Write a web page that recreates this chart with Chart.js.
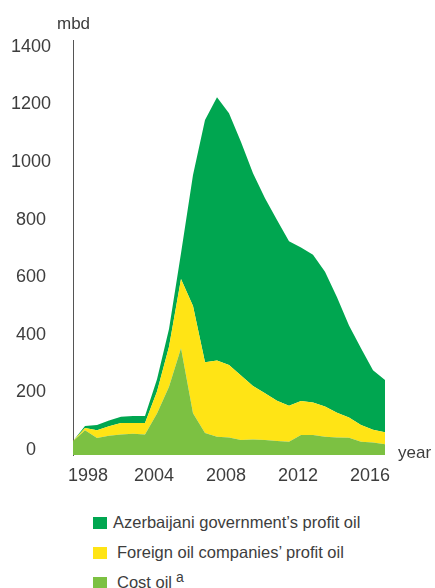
<!DOCTYPE html>
<html>
<head>
<meta charset="utf-8">
<script src="https://cdn.jsdelivr.net/npm/chart.js@4/dist/chart.umd.min.js"></script>
<style>
    body { margin: 0; background: #fff; font-family: 'Liberation Sans', Arial, sans-serif; color: #3d3d3d; }
    #wrap { position: relative; width: 435px; height: 588px; overflow: hidden; }
    #grafico { position: absolute; left: 0; top: 0; }
    .etichetta { position: absolute; font-size: 17px; white-space: nowrap; }
    .legenda { position: absolute; left: 0; top: 0; font-size: 16.5px; }
    .voce { position: absolute; white-space: nowrap; }
    .quadrato { position: absolute; width: 14px; height: 12px; }
    .testo { position: absolute; top: -4px; }
    sup { font-size: 14px; position: relative; top: -6px; vertical-align: baseline; margin-left: 4px; }
</style>
</head>
<body>
<div id="wrap">
    <canvas id="grafico" width="435" height="500"></canvas>
    <div class="etichetta" style="left:57px; top:14px;">mbd</div>
    <div class="etichetta" style="left:398px; top:443px;">year</div>
    <div class="legenda" id="legenda"></div>
</div>
<script>
// valori (mbd), un punto ogni passo dell'asse x
var costOil = [31, 69, 42, 50, 54, 57, 54, 127, 220, 353, 128, 59, 46, 44, 35, 37, 35, 32, 29, 52, 52, 46, 44, 43, 29, 26, 20];
var foreignProfit = [1, 8, 27, 33, 40, 37, 40, 76, 139, 241, 372, 246, 265, 251, 224, 185, 162, 139, 125, 118, 113, 105, 86, 70, 58, 45, 42];
var govProfit = [0, 7, 18, 20, 22, 24, 24, 43, 61, 89, 455, 840, 913, 874, 810, 739, 677, 627, 571, 533, 513, 468, 400, 319, 266, 206, 181];

var xTickLabels = ['1998', '2004', '2008', '2012', '2016'];
var xTickAt = [1.25, 6.75, 12.75, 18.75, 24.75];
var yTicks = [0, 200, 400, 600, 800, 1000, 1200, 1400];

var nomiSerie = ['Azerbaijani government\u2019s profit oil', 'Foreign oil companies\u2019 profit oil', 'Cost oil'];
var coloriSerie = ['#00a650', '#ffe415', '#7cc142'];

function creaPunti(valori) {
    var punti = [];
    for (var i = 0; i < valori.length; i++) {
        punti.push({ x: i, y: valori[i] });
    }
    return punti;
}

var ctx = document.getElementById('grafico');
var grafico = new Chart(ctx, {
    type: 'line',
    data: {
        datasets: [{
            label: nomiSerie[2],
            data: creaPunti(costOil),
            backgroundColor: coloriSerie[2],
            fill: 'start'
        }, {
            label: nomiSerie[1],
            data: creaPunti(foreignProfit),
            backgroundColor: coloriSerie[1],
            fill: '-1'
        }, {
            label: nomiSerie[0],
            data: creaPunti(govProfit),
            backgroundColor: coloriSerie[0],
            fill: '-1'
        }]
    },
    options: {
        responsive: false,
        animation: false,
        layout: { padding: { top: 40, right: 50, left: 0, bottom: 0 } },
        elements: {
            point: { radius: 0 },
            line: { borderWidth: 0, tension: 0 }
        },
        plugins: {
            legend: { display: false },
            tooltip: { enabled: false }
        },
        scales: {
            x: {
                type: 'linear',
                min: 0,
                max: costOil.length - 1,
                grid: { display: false },
                border: { display: false },
                afterBuildTicks: function (scale) {
                    scale.ticks = xTickAt.map(function (v) { return { value: v }; });
                },
                afterFit: function (scale) { scale.height = 45; },
                ticks: {
                    autoSkip: false,
                    maxRotation: 0,
                    padding: 2,
                    color: '#3d3d3d',
                    font: { family: 'Liberation Sans', size: 18 },
                    callback: function (v, i) { return xTickLabels[i]; }
                }
            },
            y: {
                stacked: true,
                min: -17,
                max: 1423,
                grid: { display: false },
                border: { display: true, color: '#555', width: 1 },
                afterBuildTicks: function (scale) {
                    scale.ticks = yTicks.map(function (v) { return { value: v }; });
                },
                afterFit: function (scale) { scale.width = 73; },
                ticks: {
                    padding: 14,
                    crossAlign: 'center',
                    color: '#3d3d3d',
                    font: { family: 'Liberation Sans', size: 18 },
                    callback: function (v) { return String(v); }
                }
            }
        }
    }
});

// legenda fatta a mano, come nel grafico originale
var posizioniLegenda = [
    { top: 517, sq: 93, txt: 113 },
    { top: 547, sq: 93, txt: 117 },
    { top: 577, sq: 93, txt: 117 }
];
var html = '';
for (var i = 0; i < nomiSerie.length; i++) {
    var p = posizioniLegenda[i];
    var extra = i === 2 ? '<sup>a</sup>' : '';
    html += '<div class="voce" style="top:' + p.top + 'px; left:0;">' +
        '<div class="quadrato" style="left:' + p.sq + 'px; background:' + coloriSerie[i] + ';"></div>' +
        '<div class="testo" style="left:' + p.txt + 'px;">' + nomiSerie[i] + extra + '</div></div>';
}
document.getElementById('legenda').innerHTML = html;
</script>
</body>
</html>
